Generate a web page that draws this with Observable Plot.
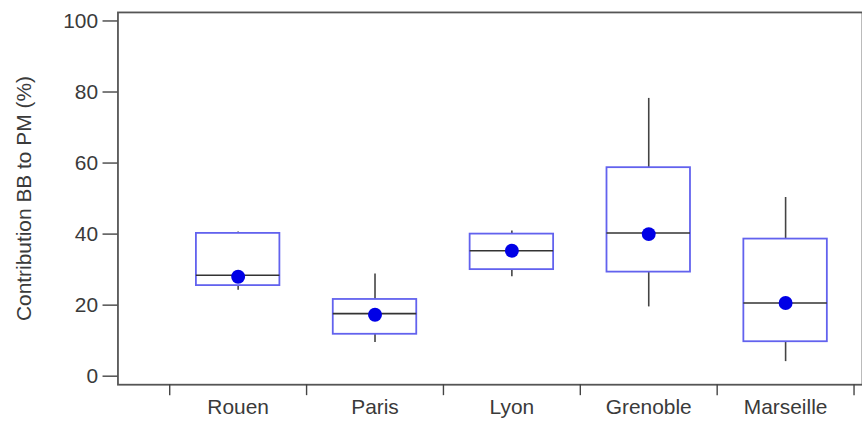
<!DOCTYPE html>
<html>
<head>
<meta charset="utf-8">
<script src="https://cdn.jsdelivr.net/npm/d3@7"></script>
<script src="https://cdn.jsdelivr.net/npm/@observablehq/plot@0.6"></script>
<style>
  html, body { margin: 0; padding: 0; background: #fff; overflow: hidden; width: 862px; height: 422px; }
  #chart { width: 862px; overflow: hidden; }
</style>
</head>
<body>
<div id="chart"></div>
<script>
const cities = ["Rouen", "Paris", "Lyon", "Grenoble", "Marseille"];
const whiskerLow = [24.2, 9.5, 28.0, 19.5, 4.1];
const q1 = [25.5, 11.8, 30.0, 29.3, 9.7];
const median = [28.4, 17.6, 35.3, 40.3, 20.6];
const q3 = [40.2, 21.6, 40.0, 58.7, 38.6];
const whiskerHigh = [40.6, 28.8, 40.9, 78.2, 50.3];
const mean = [28.0, 17.3, 35.3, 40.0, 20.6];
const yTicks = [0, 20, 40, 60, 80, 100];

const halfBox = 0.305;
const data = cities.map((c, i) => ({
  i, city: c,
  lo: whiskerLow[i], q1: q1[i], med: median[i], q3: q3[i], hi: whiskerHigh[i], mean: mean[i]
}));

const font = "'Liberation Sans', Arial, sans-serif";

const chart = Plot.plot({
  width: 866,
  height: 422,
  marginLeft: 118,
  marginRight: 0,
  marginTop: 12,
  marginBottom: 36,
  style: { fontFamily: font, fontSize: "21px", color: "#3a3a3a", background: "white" },
  x: { domain: [-0.5, 4.5], range: [170, 857.5] },
  y: { domain: [-2.4, 102.4] },
  marks: [
    Plot.frame({ stroke: "#555", strokeWidth: 1.8 }),
    Plot.axisY({ ticks: yTicks, tickSize: 15, tickPadding: 5, stroke: "#444", strokeWidth: 1.4,
                 label: "Contribution BB to PM (%)", labelAnchor: "center", labelArrow: "none", labelOffset: 102 }),
    Plot.axisX({ ticks: [-0.5, 0.5, 1.5, 2.5, 3.5, 4.5], tickSize: 11, tickFormat: () => "", stroke: "#444", strokeWidth: 1.4, label: null }),
    Plot.axisX({ ticks: [0, 1, 2, 3, 4], tickSize: 0, tickPadding: 15, tickFormat: i => cities[i], label: null }),
    Plot.ruleX(data, { x: "i", y1: "q3", y2: "hi", stroke: "#444", strokeWidth: 1.6 }),
    Plot.ruleX(data, { x: "i", y1: "lo", y2: "q1", stroke: "#444", strokeWidth: 1.6 }),
    Plot.rect(data, { x1: d => d.i - halfBox, x2: d => d.i + halfBox, y1: "q1", y2: "q3",
                      fill: "white", stroke: "#6262ee", strokeWidth: 1.8 }),
    Plot.ruleY(data, { x1: d => d.i - halfBox, x2: d => d.i + halfBox, y: "med", stroke: "#333", strokeWidth: 1.6 }),
    Plot.dot(data, { x: "i", y: "mean", r: 7, fill: "#0000e6", stroke: "none" })
  ]
});
document.getElementById("chart").appendChild(chart);
</script>
</body>
</html>
